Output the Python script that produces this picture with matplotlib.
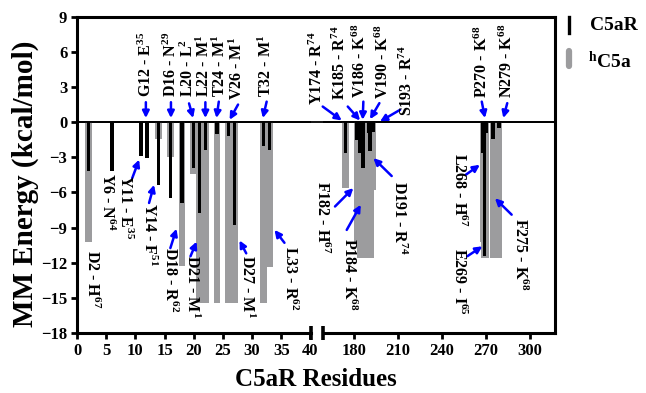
import matplotlib.pyplot as plt
from matplotlib.lines import Line2D

plt.rcParams['font.family'] = ['Liberation Serif', 'DejaVu Serif']
plt.rcParams['font.weight'] = 'bold'
plt.rcParams['mathtext.fontset'] = 'custom'
plt.rcParams['mathtext.rm'] = 'Liberation Serif:bold'
plt.rcParams['mathtext.it'] = 'Liberation Serif:bold'
plt.rcParams['mathtext.bf'] = 'Liberation Serif:bold'

# N-terminal C5aR residues (left part of the broken axis)
res_left = [2, 6, 11, 12, 14, 16, 18, 20, 21, 22, 24, 26, 27, 32, 33]
c5ar_left = [-4.2, -4.2, -2.85, -3.05, -5.4, -6.5, -6.9, -3.9, -7.75, -2.4, -1.05, -1.15, -8.75, -2.05, -2.4]
hc5a_left = [-10.2, 0.0, 0.0, 0.0, -1.4, -3.0, -12.3, -4.4, -15.4, -15.4, -15.4, -15.4, -15.4, -15.4, -12.4]

# extracellular loop residues (right part)
res_right = [174, 182, 184, 185, 186, 190, 191, 193, 268, 269, 270, 275, 279]
c5ar_right = [-2.6, -1.5, -2.6, -1.2, -3.9, -0.9, -2.5, -0.8, -2.6, -11.4, -0.9, -1.4, -0.5]
hc5a_right = [-5.6, -10.3, -11.6, -11.6, -11.6, -11.6, -11.6, -5.8, -10.2, -11.6, -11.6, -11.6, -11.6]

yticks = [-18, -15, -12, -9, -6, -3, 0, 3, 6, 9]
xticks_left = [0, 5, 10, 15, 20, 25, 30, 35, 40]
xticks_right = [180, 210, 240, 270, 300]

# (label, text x, text y, rotation, arrow start, arrow tip)
notes_left = [
    ("D2 - H$^{67}$", 2.5, -10.9, 270, None, None),
    ("Y6 - N$^{64}$", 5.1, -4.35, 270, None, None),
    ("Y11 - E$^{35}$", 8.2, -4.5, 270, (9.45, -4.8), (10.65, -3.2)),
    ("G12 - E$^{35}$", 11.8, 2.15, 90, (11.8, 1.7), (11.8, 0.35)),
    ("Y14 - F$^{51}$", 12.2, -6.9, 270, (12.35, -6.9), (13.2, -5.35)),
    ("D16 - N$^{29}$", 16.1, 2.15, 90, (16.1, 1.7), (16.1, 0.35)),
    ("D18 - R$^{62}$", 15.9, -10.7, 270, (16.0, -10.75), (17.05, -9.1)),
    ("L20 - L$^{2}$", 19.1, 2.15, 90, (19.2, 1.6), (19.9, 0.35)),
    ("D21 - M$^{1}$", 19.6, -11.3, 270, (19.45, -11.45), (20.5, -10.2)),
    ("L22 - M$^{1}$", 21.9, 2.15, 90, (22.0, 1.7), (22.0, 0.35)),
    ("T24 - M$^{1}$", 24.6, 2.15, 90, (24.3, 1.75), (23.9, 0.35)),
    ("V26 - M$^{1}$", 27.4, 1.9, 90, (27.6, 1.5), (26.15, 0.2)),
    ("D27 - M$^{1}$", 29.0, -11.3, 270, (29.0, -11.2), (27.85, -10.1)),
    ("T32 - M$^{1}$", 32.4, 2.15, 90, (32.5, 1.75), (31.85, 0.35)),
    ("L33 - R$^{62}$", 36.4, -10.6, 270, (35.55, -10.3), (33.85, -9.2)),
]
notes_right = [
    ("Y174 - R$^{74}$", 155.0, 1.45, 90, (158.6, 1.33), (171.6, 0.14)),
    ("K185 - R$^{74}$", 170.4, 1.9, 90, (175.7, 1.33), (184.1, 0.14)),
    ("V186 - K$^{68}$", 184.1, 2.05, 90, (186.35, 1.75), (185.9, 0.2)),
    ("V190 - K$^{68}$", 200.0, 1.95, 90, (197.3, 1.62), (190.9, 0.25)),
    ("S193 - R$^{74}$", 216.4, 0.5, 90, (211.4, 1.05), (197.7, 0.05)),
    ("P270 - K$^{68}$", 267.6, 2.05, 90, (267.2, 1.75), (269.4, 0.35)),
    ("N279 - K$^{68}$", 284.6, 2.05, 90, (284.6, 1.62), (281.9, 0.35)),
    ("F182 - H$^{67}$", 158.0, -5.05, 270, (167.0, -7.2), (179.5, -5.63)),
    ("P184 - K$^{68}$", 176.1, -9.9, 270, (175.0, -9.2), (184.6, -7.05)),
    ("D191 - R$^{74}$", 210.7, -5.0, 270, (205.7, -4.6), (193.2, -3.07)),
    ("L268 - H$^{67}$", 251.6, -2.65, 270, (256.2, -4.5), (265.9, -3.64)),
    ("E269 - I$^{65}$", 251.6, -10.75, 270, (257.3, -11.45), (267.6, -10.6)),
    ("F275 - K$^{68}$", 293.3, -8.2, 270, (287.6, -7.9), (276.2, -6.5)),
]

gray = '#9c9c9e'
W, H = 646, 393
fig = plt.figure(figsize=(W / 100, H / 100), dpi=100)
L, R = 77 / W, 555 / W
B, T = 1 - 333 / H, 1 - 16.7 / H
brk1, brk2 = 311 / W, 323 / W

bg = fig.add_axes([L, B, R - L, T - B], zorder=0)
bg.set_ylim(-18, 9)
bg.set_xticks([])
bg.set_yticks([])
for s in ['left', 'right', 'bottom']:
    bg.spines[s].set_visible(False)
bg.spines['top'].set_linewidth(2.2)
bg.axhline(0, color='k', lw=1.3)

ax1 = fig.add_axes([L, B, brk1 - L, T - B], zorder=1)
ax2 = fig.add_axes([brk2, B, R - brk2, T - B], zorder=1)

ax1.bar(res_left, hc5a_left, width=1.15, color=gray, zorder=2)
ax1.bar(res_left, c5ar_left, width=0.6, color='k', zorder=3)
ax2.bar(res_right, hc5a_right, width=4.6, color=gray, zorder=2)
ax2.bar(res_right, c5ar_right, width=2.4, color='k', zorder=3)

for ax in (ax1, ax2):
    ax.patch.set_alpha(0)
    ax.set_ylim(-18, 9)
    ax.axhline(0, color='k', lw=1.3, zorder=4)
    ax.spines['top'].set_visible(False)
    for s in ax.spines.values():
        s.set_linewidth(2.2)
    ax.tick_params(width=2, length=4, labelsize=12, pad=3)

ax1.set_xlim(0, 40.1)
ax1.set_xticks(xticks_left)
ax1.set_yticks(yticks)
ax1.spines['right'].set_visible(False)
ax1.plot([1], [0], transform=ax1.transAxes, marker='|', ms=10, mew=2.6, color='k', clip_on=False)

ax2.set_xlim(158.8, 317.2)
ax2.set_xticks(xticks_right)
ax2.set_yticks([])
ax2.spines['left'].set_visible(False)
ax2.plot([0], [0], transform=ax2.transAxes, marker='|', ms=10, mew=2.6, color='k', clip_on=False)

for ax, notes in ((ax1, notes_left), (ax2, notes_right)):
    for label, tx, ty, rot, start, tip in notes:
        ax.text(tx, ty, label, rotation=rot, ha='center',
                va='bottom' if rot == 90 else 'top', fontsize=11.5, zorder=5)
        if start is not None:
            ax.annotate('', xy=tip, xytext=start,
                        arrowprops=dict(arrowstyle='-|>', color='#0000ff', lw=1.8,
                                        mutation_scale=10, shrinkA=0, shrinkB=0))

fig.text((L + R) / 2, 1 - 380 / H, 'C5aR Residues', ha='center', va='center', fontsize=18)
fig.text(25 / W, 1 - 184 / H, 'MM Energy (kcal/mol)', rotation=90,
         ha='center', va='center', fontsize=21)

# legend drawn by hand
fig.add_artist(Line2D([569 / W, 569 / W], [1 - 17 / H, 1 - 33 / H], color='k', lw=2.4))
fig.add_artist(Line2D([569 / W, 569 / W], [1 - 51 / H, 1 - 66 / H], color=gray, lw=4.5,
                      solid_capstyle='round'))
fig.text(590 / W, 1 - 25 / H, 'C5aR', ha='left', va='center', fontsize=14)
fig.text(588 / W, 1 - 61 / H, '$^{h}$C5a', ha='left', va='center', fontsize=14)

fig.savefig('out.png', dpi=100)
